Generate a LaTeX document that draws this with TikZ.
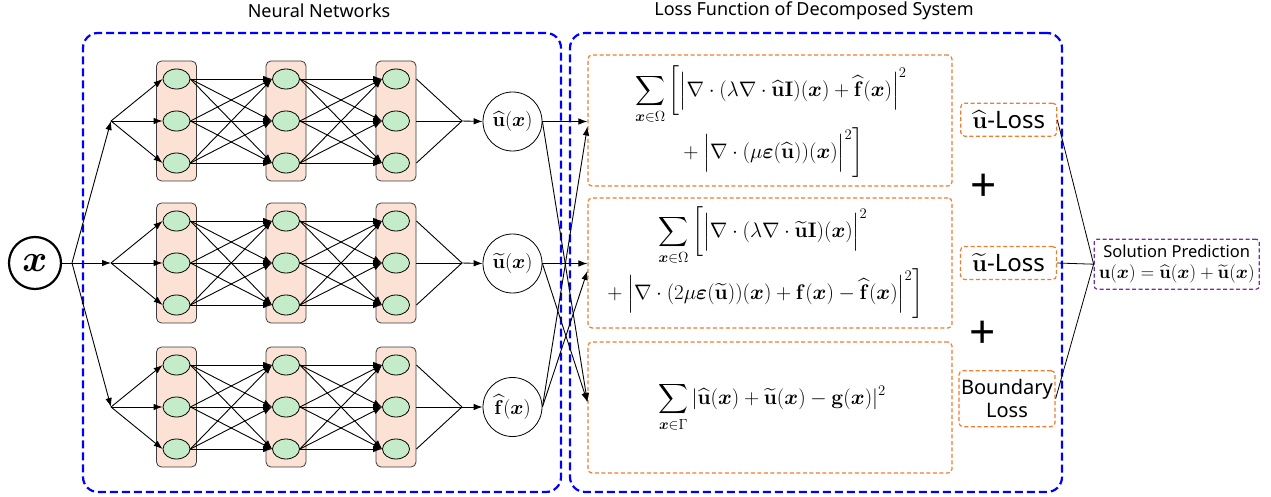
\RequirePackage{fix-cm}
\documentclass[tikz,border=0pt]{standalone}
\usepackage{amsmath}
\usepackage[no-math]{fontspec}
\newfontfamily\lab{Noto Sans}
\usetikzlibrary{arrows.meta,calc,shapes.geometric}
\definecolor{nnblue}{RGB}{0,0,255}
\definecolor{lossorange}{RGB}{237,125,49}
\definecolor{solpurple}{RGB}{112,48,160}
\definecolor{peach}{RGB}{251,226,213}
\definecolor{mint}{RGB}{197,236,200}
\definecolor{edgegray}{RGB}{60,60,60}
\tikzset{
  bluebox/.style={draw=nnblue, line width=2.2pt, dash pattern=on 8pt off 4pt, rounded corners=15pt},
  lossbox/.style={draw=lossorange, line width=1.2pt, dash pattern=on 4pt off 2.5pt, rounded corners=4pt, inner sep=0pt},
  solbox/.style={draw=solpurple, line width=1.2pt, dash pattern=on 4pt off 2.5pt, rounded corners=3pt, inner sep=1pt, align=center},
  layerbox/.style={draw=edgegray, fill=peach, rounded corners=5pt, minimum width=40pt, minimum height=120pt, line width=0.8pt},
  neuron/.style={ellipse, draw=black, fill=mint, minimum width=27pt, minimum height=20pt, inner sep=0pt, line width=0.8pt},
  outc/.style={circle, draw=black, line width=0.8pt, minimum size=59pt, inner sep=0pt, font=\fontsize{20}{24}\selectfont},
  inc/.style={circle, draw=black, line width=2.2pt, minimum size=52pt, inner sep=0pt, font=\fontsize{38}{40}\selectfont},
  arr/.style={-{Latex[length=9pt,width=6.5pt]}, line width=0.9pt},
  wire/.style={line width=0.9pt},
  title/.style={font=\lab\fontsize{18}{22}\selectfont},
  formula/.style={font=\fontsize{21}{25}\selectfont},
  plus/.style={font=\lab\bfseries\fontsize{46}{48}\selectfont, inner sep=0pt},
}
\begin{document}
\begin{tikzpicture}[x=1pt,y=-1pt]
\useasboundingbox (0,0) rectangle (1271,497);
% frames
\node[bluebox, minimum width=478pt, minimum height=459pt] (NNframe) at (322,262.5) {};
\node[bluebox, minimum width=492pt, minimum height=459pt] (LFframe) at (816,262.5) {};
\node[title] (T1) at (319,11) {Neural Networks};
\node[title] (T2) at (814,11) {Loss Function of Decomposed System};
% networks
\foreach \n/\cy in {1/121,2/263,3/407} {
  \foreach \L/\cx in {1/176.5,2/286,3/396} {
    \node[layerbox] (L\n\L) at (\cx,\cy) {};
    \foreach \k/\dy in {1/-42,2/0,3/42}
      \node[neuron] (N\n\L\k) at (\cx,\cy+\dy) {};
  }
  \coordinate (S\n) at (111,\cy);
  \coordinate (M\n) at (462,\cy);
}
\node[inc] (X) at (35,263) {$\boldsymbol{x}$};
\coordinate (B) at (72,263);
\node[outc] (O1) at (512.5,121.5) {$\widehat{\mathbf u}(\boldsymbol x)$};
\node[outc] (O2) at (512.5,263.5) {$\widetilde{\mathbf u}(\boldsymbol x)$};
\node[outc] (O3) at (512.5,407) {$\widehat{\mathbf f}(\boldsymbol x)$};
\draw[wire] (X.east) -- (B);
\foreach \n in {1,2,3} {
  \draw[arr] (B) -- (S\n);
  \foreach \k in {1,2,3} \draw[arr] (S\n) -- (N\n1\k.west);
  \foreach \a in {1,2,3} \foreach \b in {1,2,3} {
    \draw[arr] (N\n1\a.east) -- (N\n2\b.west);
    \draw[arr] (N\n2\a.east) -- (N\n3\b.west);
  }
  \foreach \k in {1,2,3} \draw[wire] (N\n3\k.east -| L\n3.east) -- (M\n);
  \draw[arr] (M\n) -- (O\n.west);
}
% loss boxes
\node[lossbox, minimum width=364pt, minimum height=131pt] (E1) at (770,120.5) {};
\node[formula] (F1) at (771,122)
 {$\displaystyle\begin{gathered}\sum_{\boldsymbol{x}\in\Omega}\bigg[\Big|\nabla\cdot(\lambda\nabla\cdot\widehat{\mathbf u}\mathbf I)(\boldsymbol x)+\widehat{\mathbf f}(\boldsymbol x)\Big|^2\\ {}+\Big|\nabla\cdot(\mu\boldsymbol\varepsilon(\widehat{\mathbf u}))(\boldsymbol x)\Big|^2\bigg]\end{gathered}$};
\node[lossbox, minimum width=364pt, minimum height=130pt] (E2) at (770,263) {};
\node[formula] (F2) at (763,263)
 {$\displaystyle\begin{gathered}\sum_{\boldsymbol{x}\in\Omega}\bigg[\Big|\nabla\cdot(\lambda\nabla\cdot\widetilde{\mathbf u}\mathbf I)(\boldsymbol x)\Big|^2\\ {}+\Big|\nabla\cdot(2\mu\boldsymbol\varepsilon(\widetilde{\mathbf u}))(\boldsymbol x)+\mathbf f(\boldsymbol x)-\widehat{\mathbf f}(\boldsymbol x)\Big|^2\bigg]\end{gathered}$};
\node[lossbox, minimum width=364pt, minimum height=131pt] (E3) at (770,407.5) {};
\node[formula] (F3) at (772,407)
 {$\displaystyle\sum_{\boldsymbol{x}\in\Gamma}|\widehat{\mathbf u}(\boldsymbol x)+\widetilde{\mathbf u}(\boldsymbol x)-\mathbf g(\boldsymbol x)|^2$};
% connectors outputs -> losses
\draw[arr] (O1.east) -- (O1.east -| E1.west);
\draw[arr] (O2.east) -- (O2.east -| E2.west);
\draw[arr] (O1.east) -- ([yshift=5.5pt]E3.west);
\draw[arr] (O2.east) -- ([yshift=5.5pt]E3.west);
\draw[arr] (O3.east) -- ([yshift=-6pt]E1.west);
\draw[arr] (O3.east) -- ([yshift=-8pt]E2.west);
% loss labels
\node[lossbox, minimum width=96pt, minimum height=33pt, font=\fontsize{24}{26}\selectfont] (LU) at (1008.7,119.7) {$\widehat{\mathbf u}$\lab-Loss};
\node[lossbox, minimum width=96pt, minimum height=33pt, font=\fontsize{24}{26}\selectfont] (LT) at (1008.5,263) {$\widetilde{\mathbf u}$\lab-Loss};
\node[lossbox, minimum width=96pt, minimum height=56pt, align=center, font=\lab\fontsize{20}{23}\selectfont] (LB) at (1007,398.7) {Boundary\\Loss};
\node[plus] (P1) at (984,188) {+};
\node[plus] (P2) at (983,335) {+};
\node[solbox, minimum width=165pt, minimum height=50pt, font=\fontsize{16.5}{21}\selectfont] (SP) at (1176.7,264.2)
 {{\lab Solution Prediction}\\ {\fontsize{18.5}{21}\selectfont$\mathbf u(\boldsymbol x)=\widehat{\mathbf u}(\boldsymbol x)+\widetilde{\mathbf u}(\boldsymbol x)$}};
\draw[line width=0.8pt] (LU.east) -- (SP.west);
\draw[line width=0.8pt] (LT.east) -- (SP.west);
\draw[line width=0.8pt] (LB.east) -- (SP.west);
\end{tikzpicture}
\end{document}
